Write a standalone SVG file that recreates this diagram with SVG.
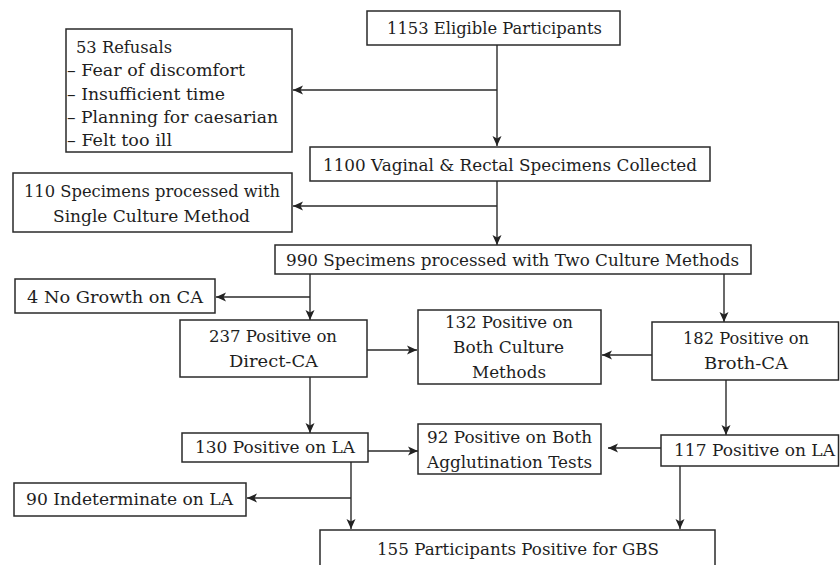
<svg xmlns="http://www.w3.org/2000/svg" width="840" height="565" viewBox="0 0 840 565">
<defs>
<style>
.box{fill:#fff;stroke:#2a2a2a;stroke-width:1.5}
.t{font-family:"DejaVu Serif","Liberation Serif",serif;font-size:16px;fill:#1e1e1e}
.ln{fill:none;stroke:#2a2a2a;stroke-width:1.4}
</style>
<marker id="ah" markerUnits="userSpaceOnUse" markerWidth="10" markerHeight="10" viewBox="0 0 10 10" refX="10" refY="5" orient="auto">
<path d="M0,0.5 L10,5 L0,9.5 L2.5,5 z" fill="#222"/>
</marker>
</defs>
<rect width="840" height="565" fill="#fff"/>
<g id="connectors">
<path class="ln" d="M497,45 V146" marker-end="url(#ah)"/>
<path class="ln" d="M497,90 H293" marker-end="url(#ah)"/>
<path class="ln" d="M497,181 V245" marker-end="url(#ah)"/>
<path class="ln" d="M497,206 H293" marker-end="url(#ah)"/>
<path class="ln" d="M310,274 V320" marker-end="url(#ah)"/>
<path class="ln" d="M310,297 H216" marker-end="url(#ah)"/>
<path class="ln" d="M724,274 V322" marker-end="url(#ah)"/>
<path class="ln" d="M367,350 H417" marker-end="url(#ah)"/>
<path class="ln" d="M652,355 H602" marker-end="url(#ah)"/>
<path class="ln" d="M310,377 V433" marker-end="url(#ah)"/>
<path class="ln" d="M726,380 V435" marker-end="url(#ah)"/>
<path class="ln" d="M368,451 H418" marker-end="url(#ah)"/>
<path class="ln" d="M661,448 H608" marker-end="url(#ah)"/>
<path class="ln" d="M351,462 V529" marker-end="url(#ah)"/>
<path class="ln" d="M351,498 H247" marker-end="url(#ah)"/>
<path class="ln" d="M680,466 V529" marker-end="url(#ah)"/>
</g>
<g id="n1153">
<rect class="box" x="367" y="11" width="253" height="34"/>
<text class="t" x="387" y="34" textLength="215" lengthAdjust="spacingAndGlyphs">1153 Eligible Participants</text>
</g>
<g id="nRefusals">
<rect class="box" x="66" y="29" width="226" height="123"/>
<text class="t" x="76" y="52.5" textLength="96" lengthAdjust="spacingAndGlyphs">53 Refusals</text>
<text class="t" x="67" y="76" textLength="178" lengthAdjust="spacingAndGlyphs">– Fear of discomfort</text>
<text class="t" x="67" y="99.5" textLength="158" lengthAdjust="spacingAndGlyphs">– Insufficient time</text>
<text class="t" x="67" y="123" textLength="211" lengthAdjust="spacingAndGlyphs">– Planning for caesarian</text>
<text class="t" x="67" y="146" textLength="105" lengthAdjust="spacingAndGlyphs">– Felt too ill</text>
</g>
<g id="n1100">
<rect class="box" x="310" y="147" width="400" height="34"/>
<text class="t" x="323" y="170.5" textLength="374" lengthAdjust="spacingAndGlyphs">1100 Vaginal &amp; Rectal Specimens Collected</text>
</g>
<g id="n110">
<rect class="box" x="13" y="173" width="279" height="59"/>
<text class="t" x="24" y="197" textLength="256" lengthAdjust="spacingAndGlyphs">110 Specimens processed with</text>
<text class="t" x="53" y="222" textLength="197" lengthAdjust="spacingAndGlyphs">Single Culture Method</text>
</g>
<g id="n990">
<rect class="box" x="275" y="245" width="476" height="29"/>
<text class="t" x="286" y="266" textLength="453" lengthAdjust="spacingAndGlyphs">990 Specimens processed with Two Culture Methods</text>
</g>
<g id="n4">
<rect class="box" x="15" y="279" width="200" height="34"/>
<text class="t" x="27" y="303" textLength="176" lengthAdjust="spacingAndGlyphs">4 No Growth on CA</text>
</g>
<g id="n237">
<rect class="box" x="180" y="320" width="187" height="57"/>
<text class="t" x="209" y="342" textLength="128" lengthAdjust="spacingAndGlyphs">237 Positive on</text>
<text class="t" x="229" y="367" textLength="89" lengthAdjust="spacingAndGlyphs">Direct-CA</text>
</g>
<g id="n132">
<rect class="box" x="418" y="310" width="183" height="74"/>
<text class="t" x="445" y="328" textLength="128" lengthAdjust="spacingAndGlyphs">132 Positive on</text>
<text class="t" x="453" y="353" textLength="111" lengthAdjust="spacingAndGlyphs">Both Culture</text>
<text class="t" x="472" y="378" textLength="74" lengthAdjust="spacingAndGlyphs">Methods</text>
</g>
<g id="n182">
<rect class="box" x="652" y="322" width="186.5" height="58"/>
<text class="t" x="683" y="344" textLength="126" lengthAdjust="spacingAndGlyphs">182 Positive on</text>
<text class="t" x="704" y="369" textLength="84" lengthAdjust="spacingAndGlyphs">Broth-CA</text>
</g>
<g id="n130">
<rect class="box" x="182" y="433" width="186" height="29"/>
<text class="t" x="195" y="453" textLength="160" lengthAdjust="spacingAndGlyphs">130 Positive on LA</text>
</g>
<g id="n92">
<rect class="box" x="418" y="424" width="183" height="50"/>
<text class="t" x="427" y="443" textLength="165" lengthAdjust="spacingAndGlyphs">92 Positive on Both</text>
<text class="t" x="427" y="468" textLength="165" lengthAdjust="spacingAndGlyphs">Agglutination Tests</text>
</g>
<g id="n117">
<rect class="box" x="661" y="435" width="177.5" height="31"/>
<text class="t" x="674" y="456" textLength="161" lengthAdjust="spacingAndGlyphs">117 Positive on LA</text>
</g>
<g id="n90">
<rect class="box" x="14" y="483" width="232" height="33"/>
<text class="t" x="26" y="505" textLength="207" lengthAdjust="spacingAndGlyphs">90 Indeterminate on LA</text>
</g>
<g id="n155">
<rect class="box" x="320" y="530" width="395" height="45"/>
<text class="t" x="377" y="555" textLength="282" lengthAdjust="spacingAndGlyphs">155 Participants Positive for GBS</text>
</g>
</svg>
